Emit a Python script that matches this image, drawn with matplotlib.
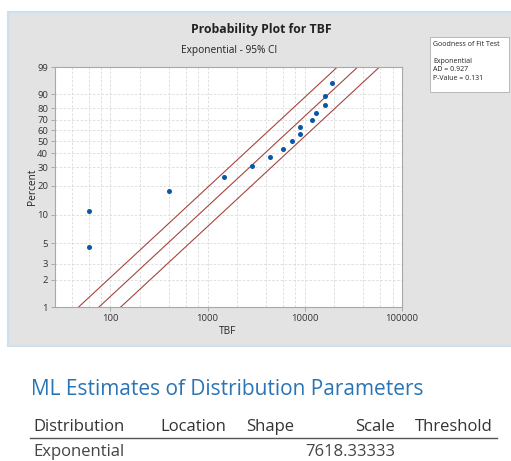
import numpy as np
import matplotlib
matplotlib.use('Agg')
import matplotlib.pyplot as plt
from matplotlib.patches import Rectangle

# data
tbf = [60, 60, 405, 1460, 2900, 4400, 6000, 7350, 8900, 8900, 11800, 13000, 16000, 16000, 19000]
percent = [4.55, 11.04, 17.53, 24.03, 30.52, 37.01, 43.51, 50.0, 56.49, 62.99, 69.48, 75.97, 82.47, 88.96, 95.45]
scale_fit = 7618.33333
scale_lo = 4700
scale_hi = 12750

yticks = [1, 2, 3, 5, 10, 20, 30, 40, 50, 60, 70, 80, 90, 99]
xticks = [100, 1000, 10000, 100000]
xgrid = [40, 60, 80, 200, 400, 600, 800, 2000, 4000, 6000, 8000, 20000, 40000, 60000, 80000]

gof_lines = ['Goodness of Fit Test', '', 'Exponential', 'AD = 0.927', 'P-Value = 0.131']
table_cols = ['Distribution', 'Location', 'Shape', 'Scale', 'Threshold']
table_row = ['Exponential', '', '', '7618.33333', '']

plt.rcParams['font.family'] = ['Open Sans', 'DejaVu Sans']

W, H = 511, 461
fig = plt.figure(figsize=(W / 100, H / 100), dpi=100)
fig.patch.set_facecolor('white')


def fx(x):
    return x / W


def fy(y):
    return 1 - y / H


# gray panel behind the plot
fig.add_artist(Rectangle((fx(8), fy(346)), fx(520 - 8), (346 - 12) / H,
                         transform=fig.transFigure, facecolor='#e3e3e3',
                         edgecolor='#cde0f0', lw=1.5, zorder=0))

ax = fig.add_axes([fx(55), fy(307), (402 - 55) / W, (307 - 67) / H])
ax.set_facecolor('white')


def fwd(p):
    p = np.clip(np.asarray(p, dtype=float), 1e-6, 99.9999)
    return np.log10(-np.log1p(-p / 100))


def inv(z):
    return 100 * (1 - np.exp(-10 ** np.asarray(z, dtype=float)))


ax.set_xscale('log')
ax.set_yscale('function', functions=(fwd, inv))
ax.set_xlim(27, 100000)
ax.set_ylim(1, 99)

ax.set_xticks(xticks)
ax.set_xticklabels([str(t) for t in xticks])
ax.set_xticks(xgrid, minor=True)
ax.set_yticks(yticks)
ax.set_yticklabels([str(t) for t in yticks])
ax.yaxis.set_minor_locator(matplotlib.ticker.NullLocator())
ax.tick_params(which='major', labelsize=6.8, colors='#333333', length=3,
               width=0.6, pad=2)
ax.tick_params(which='major', color='#a0a0a0')
ax.tick_params(which='minor', length=0)
ax.grid(True, which='both', color='#dadada', lw=0.6, ls=(0, (3, 2)))
ax.set_axisbelow(True)
for s in ax.spines.values():
    s.set_color('#a8a8a8')
    s.set_linewidth(0.8)

p_line = np.linspace(0.5, 99.5, 300)
for sc in [scale_lo, scale_fit, scale_hi]:
    ax.plot(sc * -np.log(1 - p_line / 100), p_line, color='#a5453f', lw=0.8)

ax.scatter(tbf, percent, s=13, color='#0a57a5', zorder=3, linewidths=0)

fig.text(fx(261), fy(30), 'Probability Plot for TBF', ha='center', va='center',
         fontsize=8.8, fontweight='bold', color='#222222')
fig.text(fx(229), fy(51), 'Exponential - 95% CI', ha='center', va='center',
         fontsize=7.3, color='#222222')
fig.text(fx(32), fy(187), 'Percent', ha='center', va='center', rotation=90,
         fontsize=7.3, color='#222222')
fig.text(fx(228), fy(331), 'TBF', ha='center', va='center', fontsize=7.3,
         color='#222222')

# goodness of fit box
fig.add_artist(Rectangle((fx(430), fy(92)), (509 - 430) / W, (92 - 37) / H,
                         transform=fig.transFigure, facecolor='white',
                         edgecolor='#b0b0b0', lw=0.6))
for i, line in enumerate(gof_lines):
    fig.text(fx(433), fy(45 + i * 8.3), line, ha='left', va='center',
             fontsize=5, color='#222222')

# ML estimates table
fig.text(fx(31), fy(389), 'ML Estimates of Distribution Parameters', ha='left',
         va='center', fontsize=15, color='#2a74b5')
col_x = [33, 160, 246, 395, 415]
col_ha = ['left', 'left', 'left', 'right', 'left']
for x, ha, name, val in zip(col_x, col_ha, table_cols, table_row):
    fig.text(fx(x), fy(427), name, ha=ha, va='center', fontsize=12,
             color='#333333')
    fig.text(fx(x), fy(452), val, ha=ha, va='center', fontsize=12,
             color='#444444')
fig.add_artist(plt.Line2D([fx(30), fx(497)], [fy(438), fy(438)],
                          transform=fig.transFigure, color='#555555', lw=1))

fig.savefig('out.png', dpi=100)
